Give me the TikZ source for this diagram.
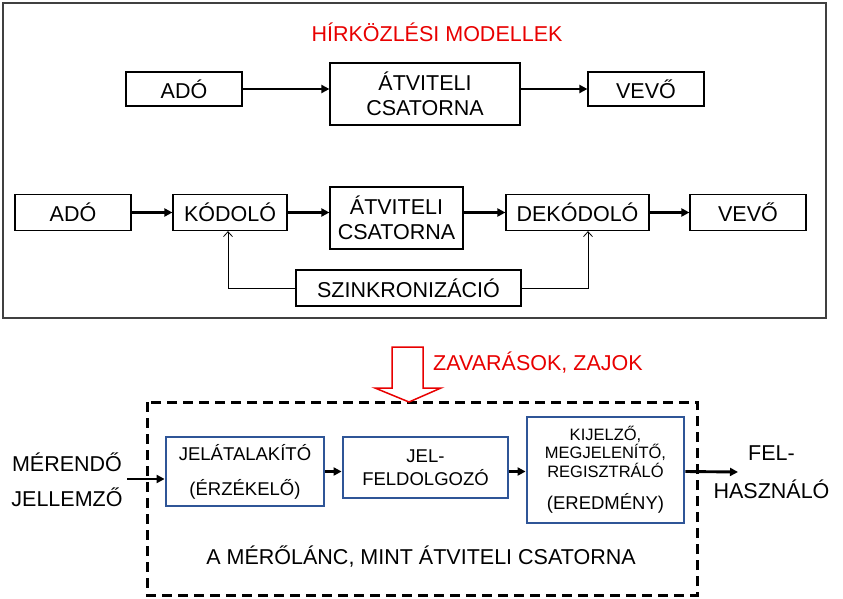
\documentclass[tikz,border=0pt]{standalone}
\usepackage{fontspec}
\setmainfont{Liberation Sans}
\usetikzlibrary{arrows.meta}
\definecolor{jelpiros}{RGB}{232,0,0}
\definecolor{kekkeret}{RGB}{47,85,151}
\definecolor{keret}{RGB}{64,64,64}

\begin{document}
\begin{tikzpicture}[x=1pt,y=1pt,yscale=-1,
    doboz/.style={draw=black,line width=1.2pt,inner sep=0pt,align=center,font=\fontsize{21.5}{25}\selectfont},
    kekdoboz/.style={draw=kekkeret,line width=2.8pt,inner sep=0pt,align=center},
    nyil/.style={line width=2.9pt,-{Triangle[length=8pt,width=8pt]}},
    visszanyil/.style={line width=0.8pt,-{Straight Barb[length=5pt,width=9pt]}},
    felirat/.style={inner sep=0pt,align=center,font=\fontsize{21.5}{25}\selectfont}]
    \useasboundingbox (0,0) rectangle (843,599);
    % hirkozlesi modellek
    \draw [keret,line width=1.8pt] (3,3) rectangle (826,318);
    \node [felirat,text=jelpiros] (cim) at (437,32) {HÍRKÖZLÉSI MODELLEK};
    \node [doboz,minimum width=116pt,minimum height=34pt] (adoA) at (184,89) {ADÓ};
    \node [doboz,minimum width=190pt,minimum height=62pt] (csatA) at (425,94) {ÁTVITELI\\CSATORNA};
    \node [doboz,minimum width=116pt,minimum height=34pt] (vevoA) at (646,89) {VEVŐ};
    \draw [nyil] (adoA.east) -- (adoA.east -| csatA.west);
    \draw [nyil] (adoA.east -| csatA.east) -- (vevoA.west);
    \node [doboz,minimum width=116pt,minimum height=36pt] (adoB) at (73,212.5) {ADÓ};
    \node [doboz,minimum width=114pt,minimum height=36pt] (kodolo) at (230,212.5) {KÓDOLÓ};
    \node [doboz,minimum width=133pt,minimum height=62pt] (csatB) at (396.5,218) {ÁTVITELI\\CSATORNA};
    \node [doboz,minimum width=143pt,minimum height=36pt] (dekodolo) at (577.5,212.5) {DEKÓDOLÓ};
    \node [doboz,minimum width=116pt,minimum height=36pt] (vevoB) at (748,212.5) {VEVŐ};
    \node [doboz,minimum width=225pt,minimum height=36pt] (szink) at (408.5,288) {SZINKRONIZÁCIÓ};
    \draw [nyil] (adoB) -- (kodolo);
    \draw [nyil] (kodolo.east) -- (kodolo.east -| csatB.west);
    \draw [nyil] (kodolo.east -| csatB.east) -- (dekodolo.west);
    \draw [nyil] (dekodolo) -- (vevoB);
    \draw [visszanyil] (szink.west) -| ([xshift=-2pt]kodolo.south);
    \draw [visszanyil] (szink.east) -| ([xshift=10.5pt]dekodolo.south);
    % meroleanc
    \draw [line width=3pt,dash pattern={on 10pt off 6pt}] (147,402) rectangle (697,595);
    \draw [jelpiros,line width=1.5pt,fill=white] (392,347) -- (423,347) -- (423,388) -- (441,388) -- (409,402) -- (375,388) -- (392,388) -- cycle;
    \node [felirat,text=jelpiros,anchor=west] (zaj) at (433,363) {ZAVARÁSOK, ZAJOK};
    \node [kekdoboz,minimum width=158pt,minimum height=69pt,font=\fontsize{18.5}{35}\selectfont] (jelat) at (245,471.5) {JELÁTALAKÍTÓ\\(ÉRZÉKELŐ)};
    \node [kekdoboz,minimum width=165pt,minimum height=61pt,font=\fontsize{18.5}{23}\selectfont] (feldolg) at (425.5,467.5) {JEL-\\FELDOLGOZÓ};
    \node [kekdoboz,minimum width=157pt,minimum height=106pt,font=\fontsize{16.5}{18.5}\selectfont] (kijelzo) at (605.5,470) {KIJELZŐ,\\MEGJELENÍTŐ,\\REGISZTRÁLÓ\\[14pt]{\fontsize{18.5}{22}\selectfont (EREDMÉNY)}};
    \node [felirat,font=\fontsize{21.5}{35}\selectfont] (meres) at (67,480) {MÉRENDŐ\\JELLEMZŐ};
    \node [felirat,font=\fontsize{21.5}{38}\selectfont] (hasznalo) at (771.5,472) {FEL-\\HASZNÁLÓ};
    \node [felirat] (lanc) at (421,557) {A MÉRŐLÁNC, MINT ÁTVITELI CSATORNA};
    \coordinate (be) at (127,479);
    \coordinate (ki) at (738,472);
    \draw [nyil] (be) -- (be -| jelat.west);
    \draw [nyil] (jelat.east -| jelat.east) -- (jelat.east -| feldolg.west);
    \draw [nyil] (jelat.east -| feldolg.east) -- (jelat.east -| kijelzo.west);
    \draw [nyil] (jelat.east -| kijelzo.east) -- (ki);
\end{tikzpicture}
\end{document}
